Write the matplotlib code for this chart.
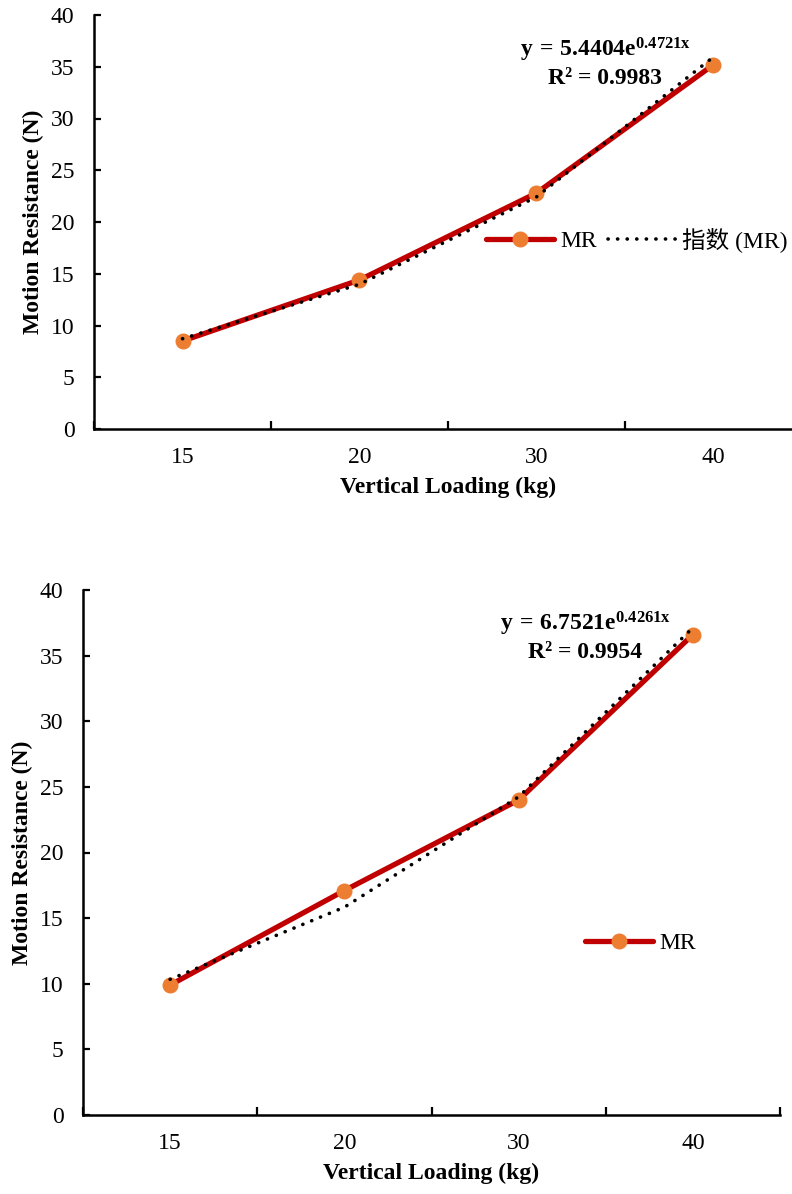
import numpy as np
import matplotlib
matplotlib.use("Agg")
import matplotlib.pyplot as plt

plt.rcParams['font.family'] = ['Liberation Serif', 'Noto Sans CJK SC']
plt.rcParams['mathtext.fontset'] = 'custom'
plt.rcParams['mathtext.rm'] = 'Liberation Serif'
plt.rcParams['mathtext.bf'] = 'Liberation Serif:bold'
plt.rcParams['mathtext.it'] = 'Liberation Serif:italic'

categories = ['15', '20', '30', '40']
mr_top = [8.5, 14.4, 22.8, 35.2]
mr_bottom = [9.9, 17.1, 24.0, 36.6]
fit_top = (5.4404, 0.4721, 0.9983)
fit_bottom = (6.7521, 0.4261, 0.9954)
yticks = [0, 5, 10, 15, 20, 25, 30, 35, 40]

RED = '#C00000'
ORANGE = '#ED7D31'
W, H = 792, 1194
FS = 17
fig = plt.figure(figsize=(W / 100, H / 100), dpi=100)

def px_axes(l, t, r, b):
    return fig.add_axes([l / W, 1 - b / H, (r - l) / W, (b - t) / H])

def draw(ax, vals, fit, show_trend_legend, leg_xy, eq_xy):
    x = np.arange(1, len(categories) + 1)
    a, b, r2 = fit
    line, = ax.plot(x, vals, color=RED, lw=3.8, marker='o', ms=10.5,
                    mfc=ORANGE, mec=ORANGE, solid_capstyle='round', label='MR', zorder=3)
    trend = a * np.exp(b * x)
    tl, = ax.plot(x, trend, color='black', lw=2.6, ls=(0, (0.05, 2.6)),
                  dash_capstyle='round', label='指数 (MR)', zorder=4)
    ax.set_xlim(0.5, len(categories) + 0.5)
    ax.set_ylim(0, 40)
    ax.set_yticks(yticks)
    ax.set_xticks(x)
    ax.set_xticklabels(categories)
    ax.set_xticks(np.arange(0.5, len(categories) + 1, 1), minor=True)
    ax.tick_params(axis='x', which='major', length=0, pad=13, labelsize=FS)
    ax.tick_params(axis='x', which='minor', direction='in', length=6, width=1.6)
    ax.tick_params(axis='y', direction='in', length=5, width=1.6, pad=14, labelsize=FS)
    for s in ['top', 'right']:
        ax.spines[s].set_visible(False)
    for s in ['left', 'bottom']:
        ax.spines[s].set_linewidth(1.8)
    ax.set_xlabel('Vertical Loading (kg)', fontsize=FS, fontweight='bold', labelpad=6)
    ax.set_ylabel('Motion Resistance (N)', fontsize=FS, fontweight='bold', labelpad=5)
    handles = [line, tl] if show_trend_legend else [line]
    ax.legend(handles=handles, loc='center left',
              bbox_to_anchor=(leg_xy[0] / W, 1 - leg_xy[1] / H),
              bbox_transform=fig.transFigure, ncol=2, frameon=False,
              fontsize=FS, handlelength=2.9, handletextpad=0.25,
              columnspacing=0.45, borderaxespad=0, borderpad=0)
    fig.text(eq_xy[0] / W, 1 - eq_xy[1] / H,
             r'$\mathbf{y\:=\:%.4fe^{%.4fx}}$' % (a, b),
             ha='center', va='center', fontsize=FS)
    fig.text(eq_xy[0] / W, 1 - (eq_xy[1] + 29) / H,
             'R² = %.4f' % r2, ha='center', va='center', fontsize=FS, fontweight='bold')

ax1 = px_axes(94, 15, 802, 429)
draw(ax1, mr_top, fit_top, True, (486, 240), (605, 50))
ax2 = px_axes(83, 590, 780, 1115)
draw(ax2, mr_bottom, fit_bottom, False, (585, 943), (585, 624))

fig.savefig('out.png', dpi=100)
